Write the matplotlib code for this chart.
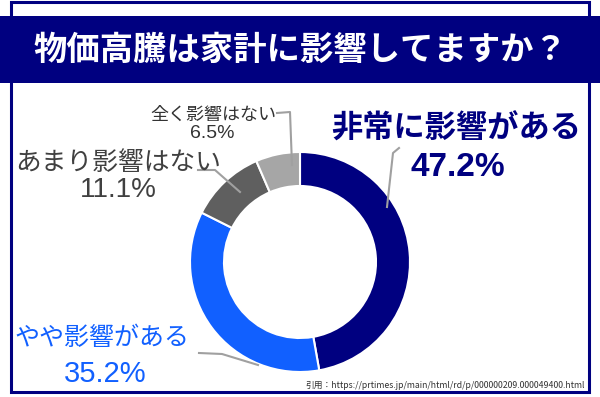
import matplotlib
matplotlib.use("Agg")
import matplotlib.pyplot as plt
from matplotlib.patches import Rectangle

plt.rcParams['font.family'] = ['Noto Sans CJK JP', 'DejaVu Sans']

# data
title = "物価高騰は家計に影響してますか？"
categories = ["非常に影響がある", "やや影響がある", "あまり影響はない", "全く影響はない"]
values = [47.2, 35.2, 11.1, 6.5]
colors = ["#000080", "#1160ff", "#5f5f5f", "#a6a6a6"]
source = "引用：https://prtimes.jp/main/html/rd/p/000000209.000049400.html"

W, H = 600, 397
NAVY = "#000080"
NUM_FONT = ['Liberation Sans', 'DejaVu Sans']


def Y(y):
    # pixel y from top -> data y
    return H - y


fig = plt.figure(figsize=(6, 3.97), dpi=100)
ax = fig.add_axes([0, 0, 1, 1])

# donut
ax.pie(values, colors=colors, startangle=90, counterclock=False,
       center=(300, Y(262)), radius=110,
       wedgeprops=dict(width=34, edgecolor="white", linewidth=1.5))

ax.set_xlim(0, W)
ax.set_ylim(0, H)
ax.set_aspect("auto")
ax.set_axis_off()

# frame + title band
ax.add_patch(Rectangle((11, Y(392)), 578, 390, fill=False, edgecolor=NAVY, lw=2.2, zorder=0))
ax.add_patch(Rectangle((0, Y(83)), W, 67, facecolor=NAVY, edgecolor="none", zorder=1))
ax.text(300, Y(50), title, color="white", fontsize=24, fontweight="bold",
        ha="center", va="center", zorder=2)

# leader lines
lc = "#a0a0a0"
ax.plot([399, 393, 387], [Y(148), Y(153), Y(207)], color=lc, lw=1.5)
ax.plot([199, 222, 258], [Y(353), Y(354), Y(365)], color=lc, lw=1.5)
ax.plot([198, 215, 240], [Y(170), Y(170), Y(192)], color=lc, lw=1.5)
ax.plot([277, 290, 292], [Y(113), Y(112), Y(165)], color=lc, lw=1.5)

# labels
ax.text(456, Y(129), categories[0], color=colors[0], fontsize=22.5, fontweight="bold",
        ha="center", va="center")
ax.text(458, Y(167), f"{values[0]}%", color=colors[0], fontsize=24, fontweight="bold",
        family=NUM_FONT, ha="center", va="center")

ax.text(102, Y(338), categories[1], color=colors[1], fontsize=18,
        ha="center", va="center")
ax.text(105, Y(374), f"{values[1]}%", color=colors[1], fontsize=21,
        family=NUM_FONT, ha="center", va="center")

ax.text(118, Y(163), categories[2], color="#404040", fontsize=18.5,
        ha="center", va="center")
ax.text(118, Y(190), f"{values[2]}%", color="#404040", fontsize=20,
        family=NUM_FONT, ha="center", va="center")

ax.text(213, Y(115), categories[3], color="#333333", fontsize=13,
        ha="center", va="center")
ax.text(212, Y(133), f"{values[3]}%", color="#333333", fontsize=14,
        family=NUM_FONT, ha="center", va="center")

ax.text(585, Y(386), source, color="#333333", fontsize=6.3, ha="right", va="center")

fig.savefig("out.png", dpi=100)
